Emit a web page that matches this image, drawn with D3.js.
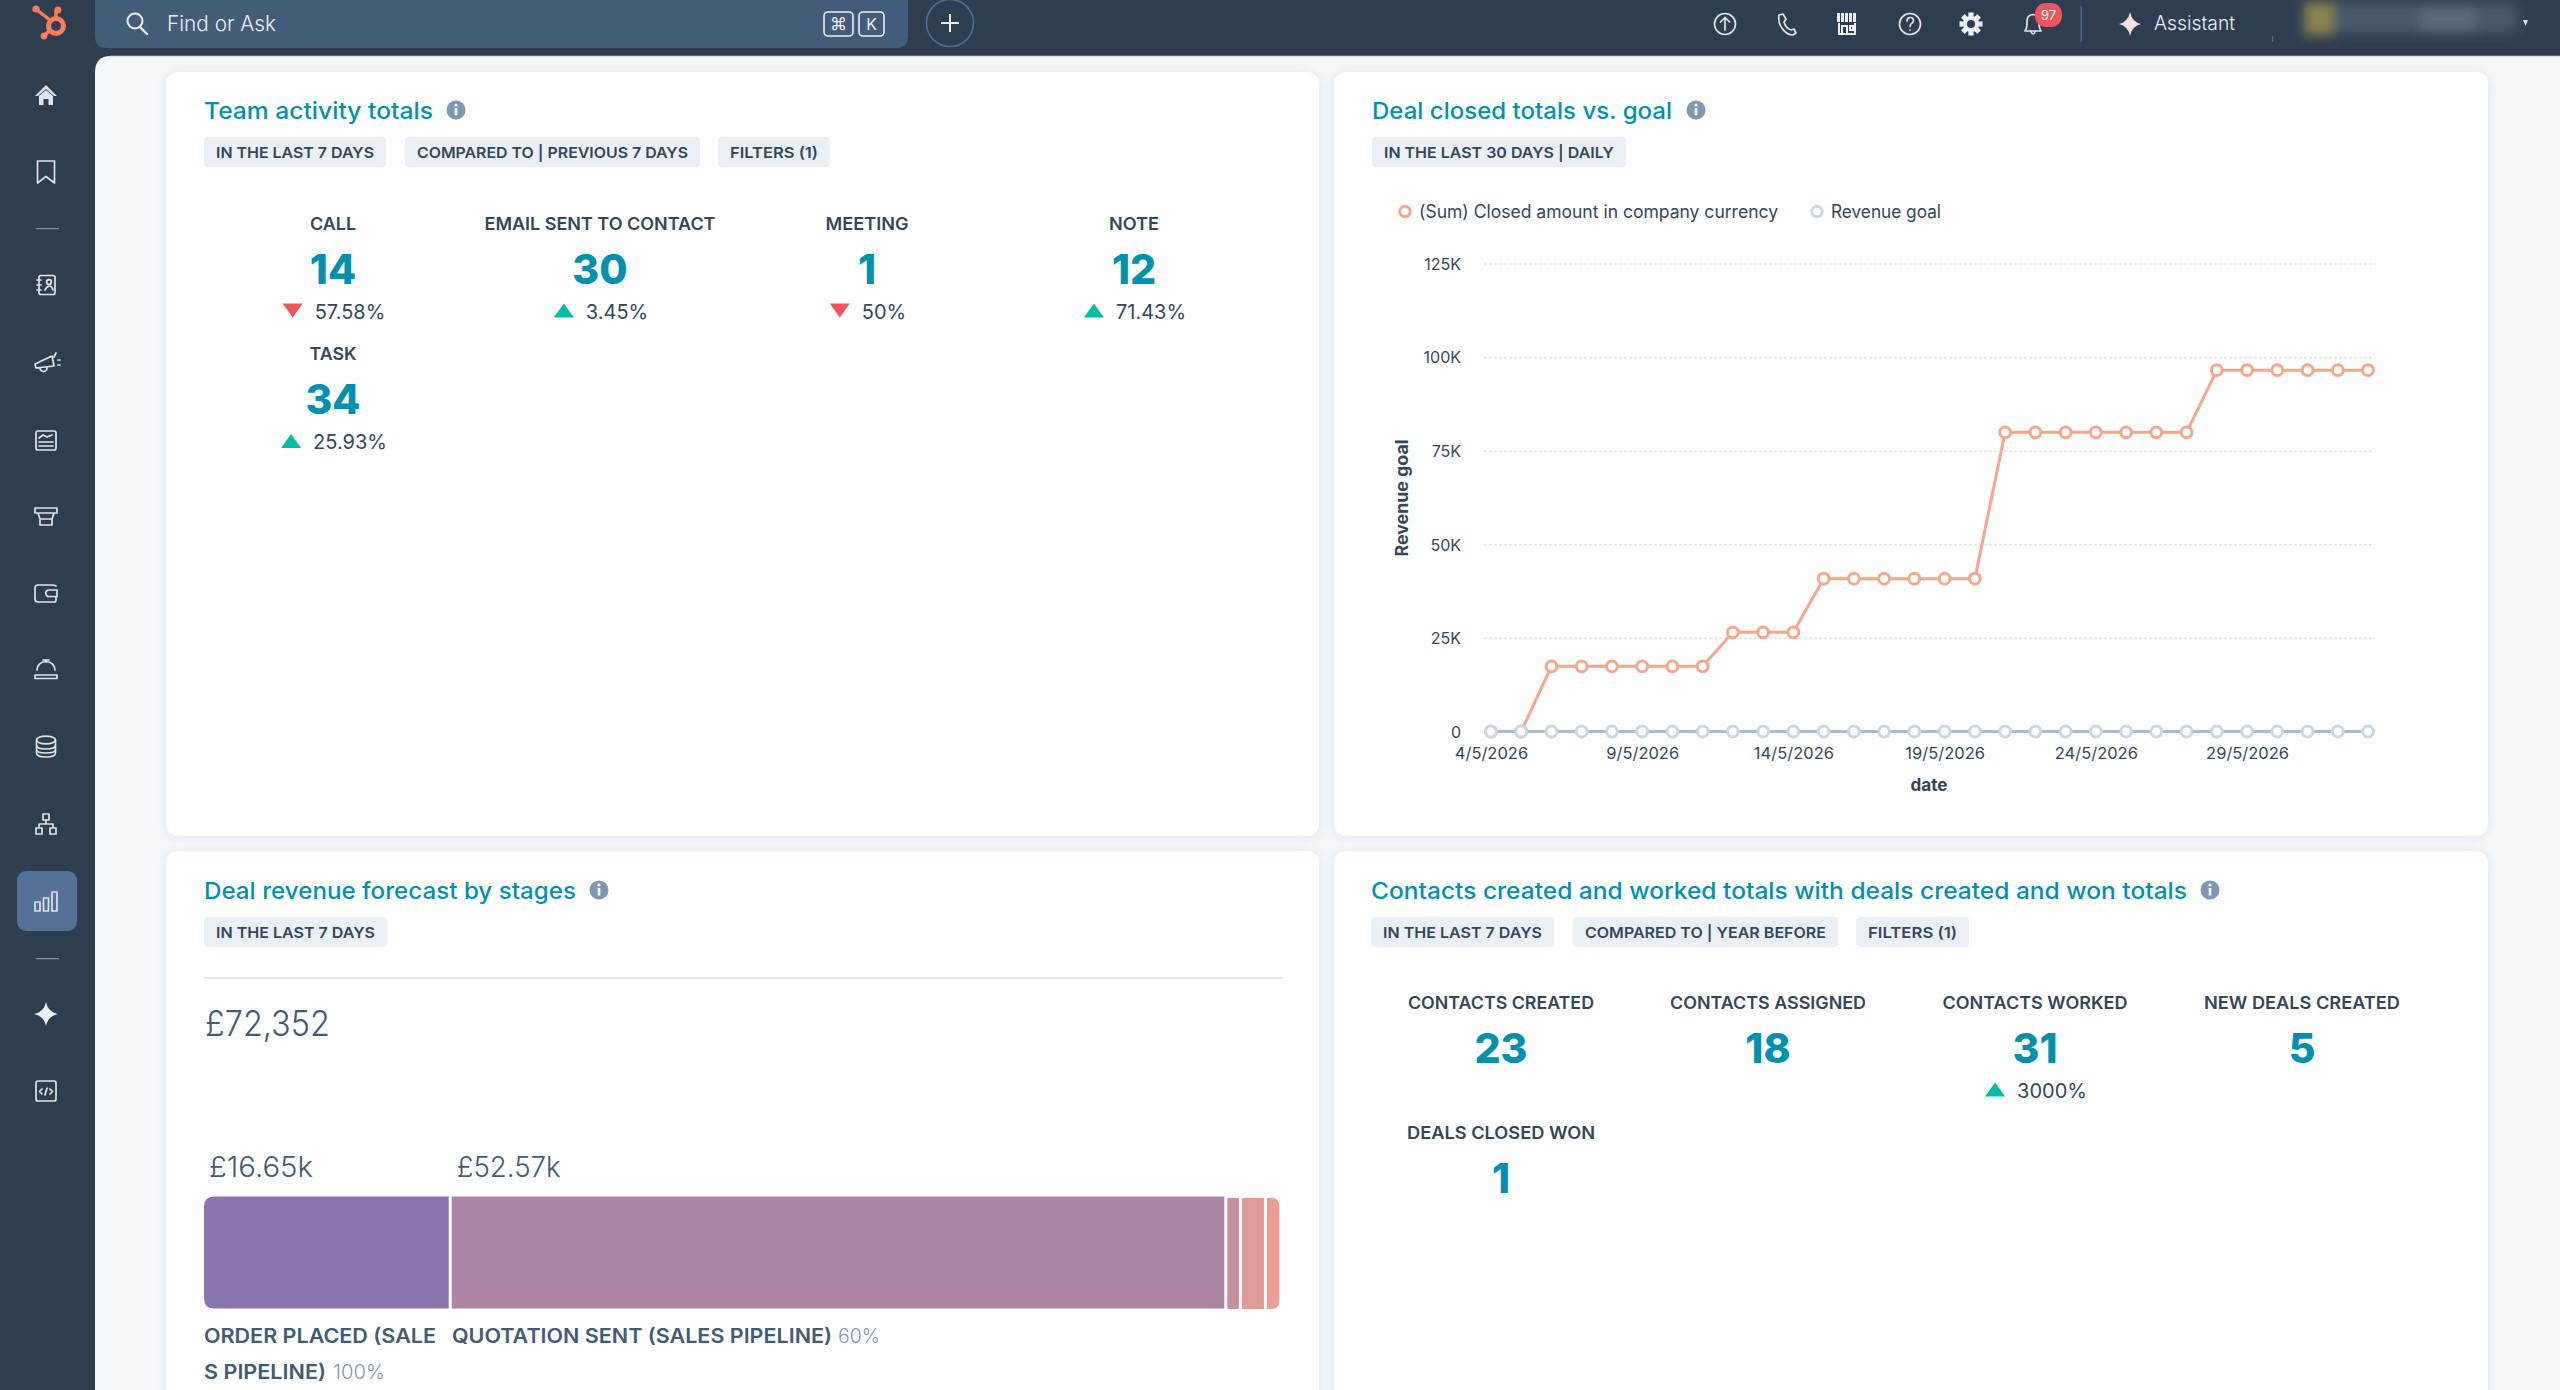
<!DOCTYPE html>
<html>
<head>
<meta charset="utf-8">
<title>Dashboard</title>
<script src="https://cdn.jsdelivr.net/npm/d3@7"></script>
<style>
  html, body { margin: 0; padding: 0; background: #2d3e50; overflow: hidden; }
  svg { display: block; font-family: Inter, "Noto Sans", sans-serif; }
  .axis .domain { display: none; }
  .axis text { font-family: Inter, "Noto Sans", sans-serif; }
</style>
</head>
<body>
<svg id="page" width="2560" height="1390"></svg>
<script>
// line chart values
const dates = ["4/5/2026","5/5/2026","6/5/2026","7/5/2026","8/5/2026","9/5/2026","10/5/2026","11/5/2026","12/5/2026","13/5/2026",
  "14/5/2026","15/5/2026","16/5/2026","17/5/2026","18/5/2026","19/5/2026","20/5/2026","21/5/2026","22/5/2026","23/5/2026",
  "24/5/2026","25/5/2026","26/5/2026","27/5/2026","28/5/2026","29/5/2026","30/5/2026","31/5/2026","1/6/2026","2/6/2026"];
const closedAmount = [0,0,17400,17400,17400,17400,17400,17400,26500,26500,26500,40800,40800,40800,40800,40800,40800,
  79900,79900,79900,79900,79900,79900,79900,96500,96500,96500,96500,96500,96500];
const revenueGoal = [0,0,0,0,0,0,0,0,0,0,0,0,0,0,0,0,0,0,0,0,0,0,0,0,0,0,0,0,0,0];
const xTicks = ["4/5/2026","9/5/2026","14/5/2026","19/5/2026","24/5/2026","29/5/2026"];
const yTicks = [0,25000,50000,75000,100000,125000];
const legendNames = ["(Sum) Closed amount in company currency","Revenue goal"];

// stacked bar values (thousands of pounds)
const stageValues = [16.65,52.57,0.79,1.5,0.84];
const stageColors = ["#8b75af","#ae84a5","#c58f9d","#e09b96","#ee9e90"];

// kpi tiles
const teamLabels = ["CALL","EMAIL SENT TO CONTACT","MEETING","NOTE","TASK"];
const teamValues = [14,30,1,12,34];
const teamDeltas = [-57.58,3.45,-50,71.43,25.93];
const contactLabels = ["CONTACTS CREATED","CONTACTS ASSIGNED","CONTACTS WORKED","NEW DEALS CREATED","DEALS CLOSED WON"];
const contactValues = [23,18,31,5,1];
const contactDeltas = [null,null,3000,null,null];

const TEAL = "#0091ae", DARK = "#33475b", NAV = "#2d3e50";
// widths measured in the reference, the original font is not installed
const labelWidth = {"CALL":46,"EMAIL SENT TO CONTACT":231,"MEETING":83,"NOTE":50,"TASK":47,"CONTACTS CREATED":186,
  "CONTACTS ASSIGNED":196,"CONTACTS WORKED":185,"NEW DEALS CREATED":196,"DEALS CLOSED WON":188};
const svg = d3.select("#page");

function label(g, x, y, str, size, weight, fill, anchor, width){
  const t = g.append("text").attr("x", x).attr("y", y).text(str)
    .attr("font-size", size).attr("font-weight", weight).attr("fill", fill)
    .attr("text-anchor", anchor || "start");
  if(width) t.attr("textLength", width).attr("lengthAdjust", "spacingAndGlyphs");
  return t;
}

// ---------- shell ----------
svg.append("rect").attr("width", 2560).attr("height", 1390).attr("fill", NAV);
svg.append("path").attr("d", "M95 1390 V72 Q95 56 111 56 H2560 V1390 Z").attr("fill", "#f5f8fa");
svg.append("rect").attr("x", 110).attr("y", 55).attr("width", 2450).attr("height", 1.5).attr("fill", "#8a9bb0").attr("opacity", .5);

const defs = svg.append("defs");
const shadow = defs.append("filter").attr("id", "cardShadow").attr("x", "-5%").attr("y", "-5%").attr("width", "110%").attr("height", "110%");
shadow.append("feDropShadow").attr("dx", 0).attr("dy", 1).attr("stdDeviation", 5).attr("flood-color", "#2d3e50").attr("flood-opacity", .09);
defs.append("filter").attr("id", "smear").attr("x", "-20%").attr("y", "-60%").attr("width", "140%").attr("height", "220%")
  .append("feGaussianBlur").attr("stdDeviation", 6);

const cards = [[166,72,1153,764],[1334,72,1154,764],[166,851,1153,600],[1334,851,1154,600]];
svg.selectAll("rect.card").data(cards).join("rect").attr("class", "card")
  .attr("x", d => d[0]).attr("y", d => d[1]).attr("width", d => d[2]).attr("height", d => d[3])
  .attr("rx", 12).attr("fill", "#fff").attr("filter", "url(#cardShadow)");

// ---------- top bar ----------
const bar = svg.append("g");
bar.append("path").attr("d", "M95 0 H908 V36 Q908 48 896 48 H107 Q95 48 95 36 Z").attr("fill", "#425c79");
bar.append("circle").attr("cx", 135).attr("cy", 21).attr("r", 7.5).attr("fill", "none").attr("stroke", "#eaf0f6").attr("stroke-width", 2);
bar.append("path").attr("d", "M140 27 L147 34").attr("stroke", "#eaf0f6").attr("stroke-width", 2.4).attr("stroke-linecap", "round");
label(bar, 167, 31, "Find or Ask", 22, 300, "#eaf0f6", "start", 109);
bar.selectAll("rect.key").data([[824,29],[859,25]]).join("rect").attr("class", "key")
  .attr("x", d => d[0]).attr("y", 12).attr("width", d => d[1]).attr("height", 24).attr("rx", 4)
  .attr("fill", "none").attr("stroke", "#eaf0f6").attr("stroke-width", 1.6);
label(bar, 838.5, 30, "⌘", 17, 400, "#eaf0f6", "middle");
label(bar, 871.5, 30, "K", 16, 400, "#eaf0f6", "middle");
bar.append("circle").attr("cx", 950).attr("cy", 23).attr("r", 23.5).attr("fill", "none").attr("stroke", "#516f90").attr("stroke-width", 1.6);
bar.append("path").attr("d", "M950 14 V32 M941 23 H959").attr("stroke", "#eaf0f6").attr("stroke-width", 2);

const lineIcon = (g) => g.attr("fill", "none").attr("stroke", "#dfe3eb").attr("stroke-width", 1.7).attr("stroke-linecap", "round").attr("stroke-linejoin", "round");
const upload = lineIcon(bar.append("g").attr("transform", "translate(1725,24)"));
upload.append("circle").attr("r", 10.5);
upload.append("path").attr("d", "M0 6 V-6 M-4.5 -2 L0 -6.5 L4.5 -2");
const phone = lineIcon(bar.append("g").attr("transform", "translate(1786,24)"));
phone.append("path").attr("d", "M-7 -9 L-3 -10 L0 -5 L-2 -2 C-1 2 2 5 5 6 L8 5 L10 9 L7 11 C0 11 -9 2 -7 -9 Z");
const store = bar.append("g").attr("transform", "translate(1847,24)");
store.selectAll("rect.awn").data([-10,-6,-2,2,6]).join("rect").attr("class", "awn")
  .attr("x", d => d).attr("y", -11).attr("width", 3).attr("height", 9).attr("fill", "#eaf0f6");
store.append("path").attr("d", "M-8 -1 V10 H8 V-1 M-5 10 V2 H0 V10 M3 2 H6 V6 H3 Z").attr("fill", "none").attr("stroke", "#eaf0f6").attr("stroke-width", 2);
const help = lineIcon(bar.append("g").attr("transform", "translate(1910,24)"));
help.append("circle").attr("r", 10.5);
help.append("path").attr("d", "M-3 -3 Q-3 -6.5 0 -6.5 Q3.5 -6.5 3.5 -3.5 Q3.5 -1.5 1 0 Q0 1 0 2.5 M0 6 V6.2");
const gear = bar.append("g").attr("transform", "translate(1971,24)");
gear.selectAll("rect").data(d3.range(4)).join("rect").attr("x", -2.6).attr("y", -11.5).attr("width", 5.2).attr("height", 23)
  .attr("fill", "#eaf0f6").attr("transform", d => `rotate(${d * 45})`);
gear.append("circle").attr("r", 8).attr("fill", "#eaf0f6");
gear.append("circle").attr("r", 4).attr("fill", NAV);
const bell = lineIcon(bar.append("g").attr("transform", "translate(2033,24)"));
bell.append("path").attr("d", "M-8 7 Q-6 4 -6 0 V-3 Q-6 -9 0 -9.5 Q6 -9 6 -3 V0 Q6 4 8 7 Z M-2.5 7 Q0 13 2.5 7");
bar.append("rect").attr("x", 2035).attr("y", 3).attr("width", 27).attr("height", 24).attr("rx", 11).attr("fill", "#f2545b");
label(bar, 2048.5, 20, "97", 13, 400, "#fff", "middle");
bar.append("rect").attr("x", 2080.5).attr("y", 6).attr("width", 1.2).attr("height", 36).attr("fill", "#516f90");
bar.append("path").attr("d", "M2130 12 Q2132 22 2141 24 Q2132 26 2130 36 Q2128 26 2119 24 Q2128 22 2130 12 Z").attr("fill", "#f8e0e6");
label(bar, 2154, 30, "Assistant", 20, 300, "#eaf0f6", "start", 81);
bar.append("rect").attr("x", 2272).attr("y", 36).attr("width", 1.2).attr("height", 6).attr("fill", "#516f90");

const smear = bar.append("g").attr("filter", "url(#smear)");
smear.append("rect").attr("x", 2335).attr("y", 3).attr("width", 182).attr("height", 30).attr("fill", "#46586b");
smear.append("rect").attr("x", 2420).attr("y", 8).attr("width", 55).attr("height", 24).attr("fill", "#586a7c");
smear.append("rect").attr("x", 2304).attr("y", 2).attr("width", 30).attr("height", 33).attr("fill", "#8a8450");
bar.append("path").attr("d", "M2523 20 H2528 L2525.5 26 Z").attr("fill", "#dfe3eb");

// ---------- sidebar ----------
const side = svg.append("g");
const logo = side.append("g").attr("stroke", "#ff7a59").attr("fill", "none");
logo.append("circle").attr("cx", 56).attr("cy", 26).attr("r", 7.5).attr("stroke-width", 5);
logo.append("path").attr("d", "M37 10 L50 20 M56 11 V18 M49 31 L44 36").attr("stroke-width", 3.4).attr("stroke-linecap", "round");
logo.selectAll("circle.tip").data([[36,9,3.6],[58,10,3.4],[44,36,3.4]]).join("circle").attr("class", "tip")
  .attr("cx", d => d[0]).attr("cy", d => d[1]).attr("r", d => d[2]).attr("fill", "#ff7a59").attr("stroke", "none");

const icon = (y) => lineIcon(side.append("g").attr("transform", `translate(46,${y})`));
const home = side.append("g").attr("transform", "translate(46,95)");
home.append("path").attr("d", "M-11 1 L0 -10 L11 1 L8 1 L0 -6 L-8 1 Z M-7 1 L0 -5 L7 1 V10 H2.5 V4 H-2.5 V10 H-7 Z").attr("fill", "#dfe3eb");
icon(172).append("path").attr("d", "M-8.5 -11 H8.5 V11 L0 4.5 L-8.5 11 Z");
side.selectAll("rect.rule").data([228,958]).join("rect").attr("class", "rule")
  .attr("x", 36).attr("y", d => d).attr("width", 23).attr("height", 1.2).attr("fill", "#7c98b6");
const contacts = icon(285);
contacts.append("rect").attr("x", -7).attr("y", -9.5).attr("width", 16).attr("height", 19).attr("rx", 2);
contacts.append("path").attr("d", "M-9 -5 H-5 M-9 0 H-5 M-9 5 H-5 M-1 5 Q1 1 3.5 1 Q6 1 7 5");
contacts.append("circle").attr("cx", 3).attr("cy", -3).attr("r", 2.4);
const horn = icon(362);
horn.append("path").attr("d", "M-11 2 L6 -6 L8 4 L-10 6 Z M-6 6 A3.5 3.5 0 0 0 1 6 M10 -9 L8 -5 M12 -2 H14 M12 3 H14");
const report = icon(440);
report.append("rect").attr("x", -10).attr("y", -9).attr("width", 20).attr("height", 19).attr("rx", 2);
report.append("path").attr("d", "M-7 -2 L-3 -5 L1 -3 L6 -5 M-7 2 H7 M-7 6 H7");
const funnel = icon(516);
funnel.append("path").attr("d", "M-11 -8 H11 V-3 H-11 Z M-8 -3 L-6 3 H6 L8 -3 M-6 3 V9 H6 V3");
const wallet = icon(593);
wallet.append("path").attr("d", "M10 -7 Q8 -8 6 -8 H-8 Q-11 -8 -11 -5 V6 Q-11 9 -8 9 H8 Q10 9 10 7 V4 M10 -3 H3 A3.2 3.2 0 0 0 3 3.5 H11 V-3 Z");
const desk = icon(669);
desk.append("path").attr("d", "M-9 1 A9 8.5 0 0 1 9 1 M-11 6 H11 V9.5 H-11 Z M-3 -9 H3 M0 -9 V-7");
const db = icon(746);
db.append("ellipse").attr("cx", 0).attr("cy", -6).attr("rx", 9.5).attr("ry", 3.8);
db.append("path").attr("d", "M-9.5 -6 V7 Q-9.5 11 0 11 Q9.5 11 9.5 7 V-6 M-9.5 -1 Q-9.5 3 0 3 Q9.5 3 9.5 -1 M-9.5 3.5 Q-9.5 7 0 7 Q9.5 7 9.5 3.5");
const org = icon(825);
org.append("path").attr("d", "M-3 -11 H3 V-5 H-3 Z M0 -5 V-1 M-7 3 V-1 H7 V3 M-10 3 H-4 V9 H-10 Z M4 3 H10 V9 H4 Z");
side.append("rect").attr("x", 17).attr("y", 871).attr("width", 60).attr("height", 60).attr("rx", 9).attr("fill", "#547295");
const bars = icon(901);
bars.append("path").attr("d", "M-11 1 H-6 V10 H-11 Z M-2.5 -3 H2.5 V10 H-2.5 Z M6 -9 H11 V10 H6 Z");
side.append("path").attr("d", "M46 1002 Q48 1012 58 1014 Q48 1016 46 1026 Q44 1016 34 1014 Q44 1012 46 1002 Z").attr("fill", "#eaf0f6");
const code = icon(1091);
code.append("rect").attr("x", -10).attr("y", -10).attr("width", 20).attr("height", 20).attr("rx", 2);
code.append("path").attr("d", "M-4 -2 L-6.5 0.5 L-4 3 M4 -2 L6.5 0.5 L4 3 M1 -3 L-1 4");

// ---------- shared card bits ----------
function cardHeader(x, baseline, title, titleWidth, infoX, chips){
  const g = svg.append("g");
  label(g, x, baseline, title, 23, 500, TEAL, "start", titleWidth);
  const infoY = baseline - 9;
  g.append("circle").attr("cx", infoX).attr("cy", infoY).attr("r", 9.5).attr("fill", "#7c98b6");
  g.append("rect").attr("x", infoX - 1.3).attr("y", infoY - 2).attr("width", 2.6).attr("height", 7.5).attr("fill", "#fff");
  g.append("circle").attr("cx", infoX).attr("cy", infoY - 5).attr("r", 1.6).attr("fill", "#fff");
  chips.forEach(c => {
    g.append("rect").attr("x", c.x0).attr("y", baseline + 18).attr("width", c.x1 - c.x0).attr("height", 30).attr("rx", 4).attr("fill", "#eaf0f6");
    label(g, (c.x0 + c.x1) / 2, baseline + 38.5, c.text, 15, 600, DARK, "middle", c.x1 - c.x0 - 24);
  });
}

function kpiGrid(labels, values, deltas, col0, labelY){
  const cols = d3.scaleLinear().domain([0, 3]).range([col0, col0 + 801]);
  const g = svg.append("g");
  labels.forEach((name, i) => {
    const cx = cols(i % 4);
    const dy = Math.floor(i / 4) * 130.5;
    label(g, cx, labelY + dy, name, 17.5, 600, DARK, "middle", labelWidth[name]);
    label(g, cx, labelY + 54 + dy, values[i], 41, 800, TEAL, "middle");
    if(deltas[i] !== null){
      const up = deltas[i] > 0;
      const t = label(g, 0, labelY + 89 + dy, Math.abs(deltas[i]) + "%", 20, 400, DARK);
      const w = t.node().getComputedTextLength();
      const left = cx - (w + 32) / 2 + 1;
      t.attr("x", left + 32);
      const y0 = labelY + 74 + dy;
      g.append("path").attr("fill", up ? "#00bda5" : "#f2545b")
        .attr("d", up ? `M${left} ${y0 + 14} L${left + 10} ${y0} L${left + 20} ${y0 + 14} Z`
                      : `M${left} ${y0} L${left + 20} ${y0} L${left + 10} ${y0 + 14} Z`);
    }
  });
}

// ---------- team activity ----------
cardHeader(204, 119, "Team activity totals", 229, 456, [
  {x0: 204, x1: 386, text: "IN THE LAST 7 DAYS"},
  {x0: 405, x1: 700, text: "COMPARED TO | PREVIOUS 7 DAYS"},
  {x0: 718, x1: 830, text: "FILTERS (1)"}
]);
kpiGrid(teamLabels, teamValues, teamDeltas, 333, 229.5);

// ---------- contacts ----------
cardHeader(1371, 899, "Contacts created and worked totals with deals created and won totals", 816, 2210, [
  {x0: 1371, x1: 1554, text: "IN THE LAST 7 DAYS"},
  {x0: 1573, x1: 1838, text: "COMPARED TO | YEAR BEFORE"},
  {x0: 1856, x1: 1969, text: "FILTERS (1)"}
]);
kpiGrid(contactLabels, contactValues, contactDeltas, 1501, 1008.5);

// ---------- line chart ----------
cardHeader(1372, 119, "Deal closed totals vs. goal", 300, 1696, [
  {x0: 1372, x1: 1626, text: "IN THE LAST 30 DAYS | DAILY"}
]);

const x = d3.scalePoint().domain(dates).range([1484, 2375]).padding(0.23);
const y = d3.scaleLinear().domain([0, 125000]).range([731.5, 263.5]);
const lineColors = ["#f8a58c", "#a9bcd0"];
const dotColors = ["#f8a58c", "#cbd6e2"];

const legend = svg.append("g");
[[1405, 1419, 359], [1817, 1831, 110]].forEach((p, i) => {
  legend.append("circle").attr("cx", p[0]).attr("cy", 211.5).attr("r", 5.2).attr("fill", "#fff").attr("stroke", dotColors[i]).attr("stroke-width", 3);
  label(legend, p[1], 217.5, legendNames[i], 18, 400, DARK, "start", p[2]);
});

const grid = svg.append("g").attr("class", "axis").attr("transform", "translate(1484,0)")
  .call(d3.axisLeft(y).tickValues(yTicks.slice(1)).tickSize(-891).tickFormat(""));
grid.selectAll("line").attr("stroke", "#dfe6ee").attr("stroke-width", 1.6).attr("stroke-dasharray", "3 2");

const yAxis = svg.append("g").attr("class", "axis").attr("transform", "translate(1461,0)")
  .call(d3.axisLeft(y).tickValues(yTicks).tickSize(0).tickPadding(0).tickFormat(v => v === 0 ? "0" : `${v / 1000}K`));
yAxis.selectAll("text").attr("font-size", 16).attr("font-weight", 400).attr("fill", DARK).attr("dy", "0.36em");

const xAxis = svg.append("g").attr("class", "axis").attr("transform", "translate(0,731.5)")
  .call(d3.axisBottom(x).tickValues(xTicks).tickSize(0).tickPadding(16));
xAxis.selectAll("text").attr("font-size", 16.5).attr("font-weight", 400).attr("fill", DARK);

label(svg, 1929, 791, "date", 17.5, 700, DARK, "middle", 37);
label(svg, 0, 0, "Revenue goal", 17, 700, DARK, "middle", 117)
  .attr("transform", "translate(1407.5,498) rotate(-90)");

const line = d3.line().x((d, i) => x(dates[i])).y(d => y(d));
[closedAmount, revenueGoal].forEach((series, s) => {
  svg.append("path").datum(series).attr("d", line).attr("fill", "none")
    .attr("stroke", lineColors[s]).attr("stroke-width", 3);
  svg.append("g").selectAll("circle").data(series).join("circle")
    .attr("cx", (d, i) => x(dates[i])).attr("cy", d => y(d)).attr("r", 5.4)
    .attr("fill", "#fff").attr("stroke", dotColors[s]).attr("stroke-width", 3);
});

// ---------- forecast bar ----------
cardHeader(204, 899, "Deal revenue forecast by stages", 372, 599, [
  {x0: 204, x1: 387, text: "IN THE LAST 7 DAYS"}
]);
svg.append("rect").attr("x", 204).attr("y", 977).attr("width", 1079).attr("height", 2).attr("fill", "#e5e8eb");
label(svg, 205, 1035.5, "£72,352", 35, 300, "#425b76", "start", 125);

const GAP = 3;
const total = d3.sum(stageValues);
const w = d3.scaleLinear().domain([0, total]).range([0, 1075.3 - GAP * (stageValues.length - 1)]);
const stages = stageValues.map((v, i) => ({
  color: stageColors[i],
  x0: 204 + w(d3.sum(stageValues.slice(0, i))) + GAP * i,
  width: w(v)
}));
svg.append("g").selectAll("path").data(stages).join("path")
  .attr("fill", d => d.color)
  .attr("d", (d, i) => {
    const y0 = i < 2 ? 1196.5 : 1198, y1 = i < 2 ? 1308.5 : 1309, x1 = d.x0 + d.width;
    if(i === 0) return `M${x1} ${y0} V${y1} H${d.x0 + 10} Q${d.x0} ${y1} ${d.x0} ${y1 - 10} V${y0 + 10} Q${d.x0} ${y0} ${d.x0 + 10} ${y0} Z`;
    if(i === stages.length - 1) return `M${d.x0} ${y0} V${y1} H${x1 - 8} Q${x1} ${y1} ${x1} ${y1 - 8} V${y0 + 8} Q${x1} ${y0} ${x1 - 8} ${y0} Z`;
    return `M${d.x0} ${y0} H${x1} V${y1} H${d.x0} Z`;
  });
label(svg, stages[0].x0 + 5, 1176.5, "£16.65k", 29, 300, "#425b76", "start", 104);
label(svg, stages[1].x0 + 5, 1176.5, "£52.57k", 29, 300, "#425b76", "start", 104);

label(svg, 204, 1343, "ORDER PLACED (SALE", 20, 600, "#425b76", "start", 232);
label(svg, 204, 1378.5, "S PIPELINE)", 20, 600, "#425b76", "start", 122);
label(svg, 333, 1378.5, "100%", 20, 300, "#7c98b6", "start", 52);
label(svg, 452, 1343, "QUOTATION SENT (SALES PIPELINE)", 20, 600, "#425b76", "start", 380);
label(svg, 838, 1343, "60%", 20, 300, "#7c98b6", "start", 42);
</script>
</body>
</html>
